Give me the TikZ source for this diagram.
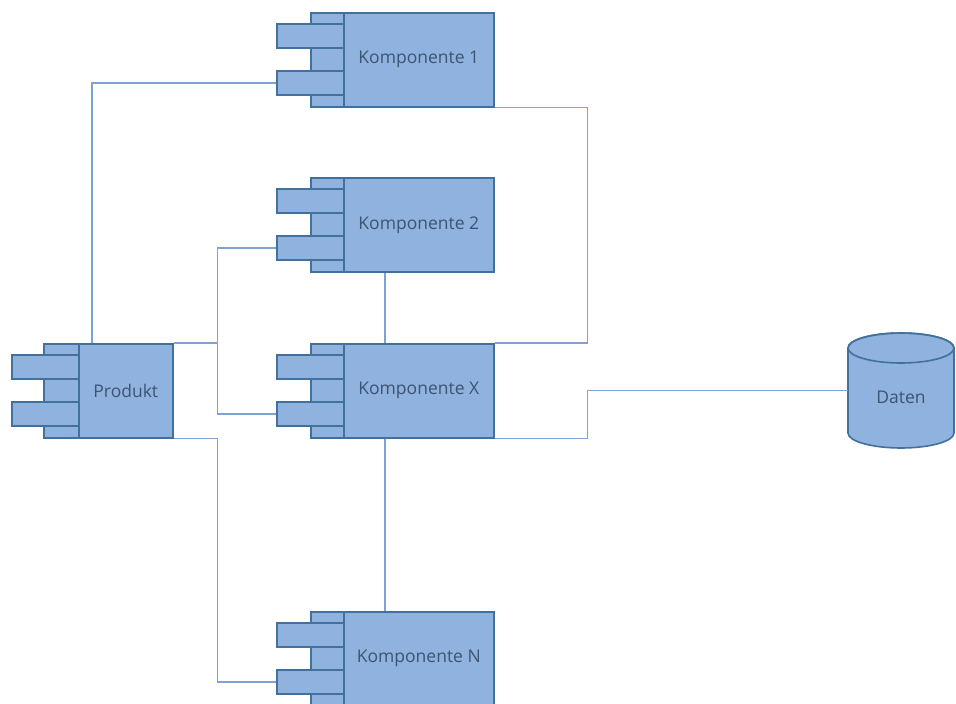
\documentclass[tikz,border=0pt]{standalone}
\usepackage{fontspec}
\setmainfont{Open Sans}
\usetikzlibrary{calc}
\definecolor{kfill}{HTML}{8FB2DE}
\definecolor{krand}{HTML}{41719C}
\definecolor{kline}{HTML}{7EA3D2}
\definecolor{ktext}{HTML}{3D5473}
\tikzset{
  teil/.style={draw=krand,fill=kfill,line width=1.6pt,inner sep=0pt,minimum height=94pt},
  stecker/.style={draw=krand,fill=kfill,line width=1.6pt,inner sep=0pt,minimum width=67pt,minimum height=24pt},
  beschriftung/.style={text=ktext,font=\fontsize{17.5}{20}\selectfont},
  leitung/.style={draw=kline,line width=1.7pt},
}
% #1 name, #2 x of body, #3 top, #4 body width, #5 strip width, #6 text
\newcommand{\baustein}[6]{
  \node[teil,anchor=north west,minimum width=#5pt] (#1s) at (#2-#5,#3) {};
  \node[stecker,anchor=north west] (#1a) at (#2-67,#3+11) {};
  \node[stecker,anchor=north west] (#1b) at (#2-67,#3+58) {};
  \node[teil,beschriftung,anchor=north west,minimum width=#4pt] (#1) at (#2,#3) {#6};
  \coordinate (#1m) at ($(#1a.west)!.5!(#1.east)$);
}
\begin{document}
\begin{tikzpicture}[x=1pt,y=-1pt]
  \useasboundingbox (0,0) rectangle (956,704);
  \baustein{prod}{78}{343}{94}{35}{Produkt}
  \baustein{ka}{343}{12}{150}{33}{Komponente 1}
  \baustein{kb}{343}{177}{150}{33}{Komponente 2}
  \baustein{kx}{343}{343}{150}{33}{Komponente X}
  \baustein{kn}{343}{611}{150}{33}{Komponente N}

  \draw[draw=krand,fill=kfill,line width=1.6pt] (848,348) -- (848,433)
    arc[start angle=180,end angle=360,x radius=53pt,y radius=15pt] -- (954,348)
    arc[start angle=0,end angle=180,x radius=53pt,y radius=15pt] -- cycle;
  \draw[draw=krand,line width=1.6pt] (901,348) ellipse [x radius=53pt,y radius=15pt];
  \node[minimum width=106pt,minimum height=115pt] (daten) at (901,390.5) {};
  \node[beschriftung] (datentext) at ($(daten.center)+(0,7)$) {Daten};

  \coordinate (gabel) at ($(prod.north east)+(44,0)$);
  \draw[leitung] (prod.north -| prodm) |- (kab.west);
  \draw[leitung] (ka.south east) -| ($(kx.north east)+(93,0)$) -- (kx.north east);
  \draw[leitung] (prod.north east) -- (gabel);
  \draw[leitung] (kbb.west) -| (gabel) |- (kxb.west);
  \draw[leitung] (prod.south east) -- ++(44,0) |- (knb.west);
  \draw[leitung] (kb.south -| kbm) -- (kx.north -| kxm);
  \draw[leitung] (kx.south -| kxm) -- (kn.north -| knm);
  \draw[leitung] (kx.south east) -- ++(93,0) |- (daten.west);
\end{tikzpicture}
\end{document}
